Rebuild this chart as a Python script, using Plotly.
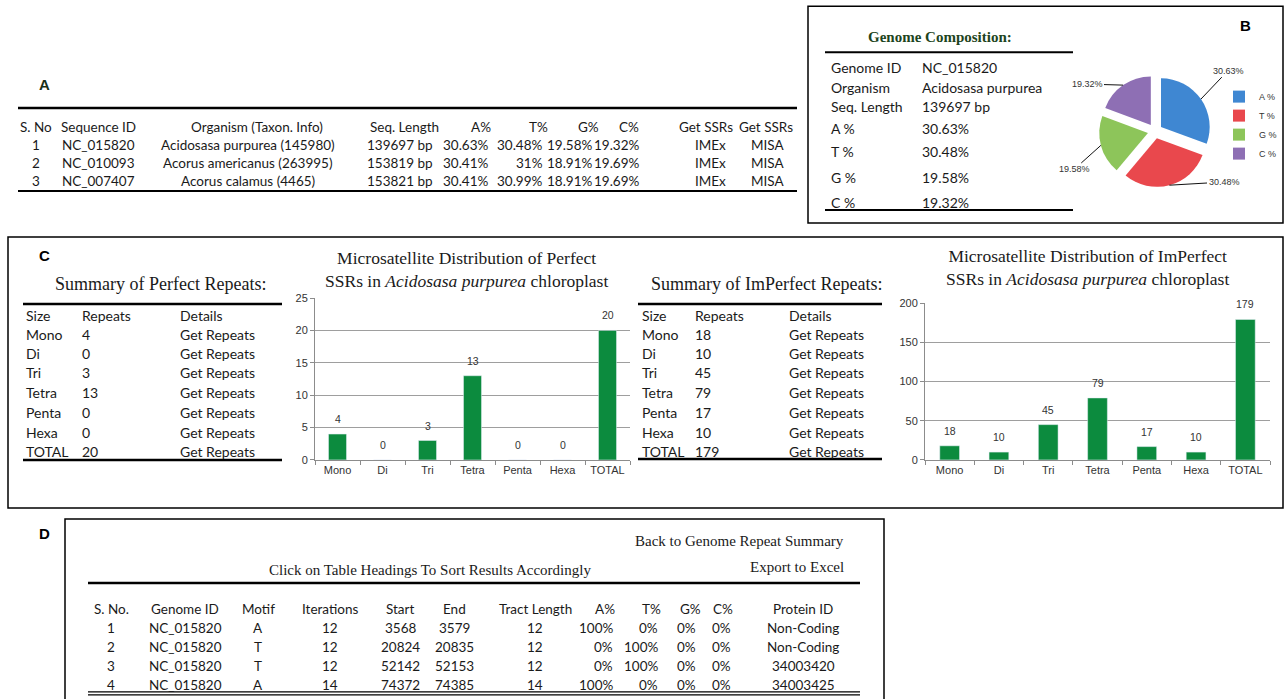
import math
import plotly.graph_objects as go

W, H = 1286, 699

# ---------------- data ----------------
# Panel A
a_headers = ["S. No", "Sequence ID", "Organism (Taxon. Info)", "Seq. Length", "A%", "T%", "G%", "C%", "Get SSRs", "Get SSRs"]
a_sno = ["1", "2", "3"]
a_seq_id = ["NC_015820", "NC_010093", "NC_007407"]
a_organism = ["Acidosasa purpurea (145980)", "Acorus americanus (263995)", "Acorus calamus (4465)"]
a_length = ["139697 bp", "153819 bp", "153821 bp"]
a_pct_A = ["30.63%", "30.41%", "30.41%"]
a_pct_T = ["30.48%", "31%", "30.99%"]
a_pct_G = ["19.58%", "18.91%", "18.91%"]
a_pct_C = ["19.32%", "19.69%", "19.69%"]
a_ssr_imex = ["IMEx", "IMEx", "IMEx"]
a_ssr_misa = ["MISA", "MISA", "MISA"]

# Panel B
b_title = "Genome Composition:"
b_labels = ["Genome ID", "Organism", "Seq. Length", "A %", "T %", "G %", "C %"]
b_values = ["NC_015820", "Acidosasa purpurea", "139697 bp", "30.63%", "30.48%", "19.58%", "19.32%"]
pie_labels = ["A %", "T %", "G %", "C %"]
pie_values = [30.63, 30.48, 19.58, 19.32]
pie_colors = ["#3f87d2", "#e9484d", "#8dc55a", "#8e6fb4"]

# Panel C
size_labels = ["Mono", "Di", "Tri", "Tetra", "Penta", "Hexa", "TOTAL"]
perfect_repeats = [4, 0, 3, 13, 0, 0, 20]
imperfect_repeats = [18, 10, 45, 79, 17, 10, 179]
c_headers = ["Size", "Repeats", "Details"]
c_details = ["Get Repeats"] * 7

# Panel D
d_headers = ["S. No.", "Genome ID", "Motif", "Iterations", "Start", "End", "Tract Length", "A%", "T%", "G%", "C%", "Protein ID"]
d_sno = ["1", "2", "3", "4"]
d_genome = ["NC_015820", "NC_015820", "NC_015820", "NC_015820"]
d_motif = ["A", "T", "T", "A"]
d_iter = ["12", "12", "12", "14"]
d_start = ["3568", "20824", "52142", "74372"]
d_end = ["3579", "20835", "52153", "74385"]
d_tract = ["12", "12", "12", "14"]
d_pA = ["100%", "0%", "0%", "100%"]
d_pT = ["0%", "100%", "100%", "0%"]
d_pG = ["0%", "0%", "0%", "0%"]
d_pC = ["0%", "0%", "0%", "0%"]
d_protein = ["Non-Coding", "Non-Coding", "34003420", "34003425"]

# ---------------- helpers ----------------
YS = 1.017  # slight vertical stretch about the middle of the page


def px(x):
    return x / W


def py(y):
    return 1 - (350 + (y - 350) * YS) / H


SANS = "Lato"
SERIF = "Liberation Serif"
TXT = "#1a1a1a"

annotations = []
shapes = []


def text(x, y, s, anchor="left", size=13.5, family=SANS, color=TXT, bold=False):
    if bold:
        s = "<b>" + s + "</b>"
    annotations.append(dict(x=px(x), y=py(y), xref="paper", yref="paper", text=s,
                            showarrow=False, xanchor=anchor, yanchor="middle",
                            font=dict(size=size, family=family, color=color)))


def hline(x0, x1, y, w=2.0, color="#000"):
    shapes.append(dict(type="line", xref="paper", yref="paper", x0=px(x0), x1=px(x1),
                       y0=py(y), y1=py(y), line=dict(color=color, width=w)))


def box(x0, y0, x1, y1, w=1.5):
    shapes.append(dict(type="rect", xref="paper", yref="paper", x0=px(x0), x1=px(x1),
                       y0=py(y0), y1=py(y1), line=dict(color="#000", width=w), layer="below"))


def column(x, ys, vals, anchor="left", size=13.5):
    for yy, v in zip(ys, vals):
        text(x, yy, str(v), anchor, size)


# ---------------- Panel A ----------------
text(44, 84, "A", "center", 15, "Liberation Sans", "#183018", bold=True)
hline(18, 797, 108, 2.5)
hline(18, 797, 191, 2.0)
a_head_x = [36, 98, 257, 404, 481, 538, 588, 629, 706, 766]
for hx, h in zip(a_head_x, a_headers):
    text(hx, 127, h, "center", 13.5)
a_rows = [145, 163, 181]
column(36, a_rows, a_sno, "center")
column(98, a_rows, a_seq_id, "center")
column(248, a_rows, a_organism, "center")
column(400, a_rows, a_length, "center")
column(491, a_rows, a_pct_A, "right")
column(545, a_rows, a_pct_T, "right")
column(595, a_rows, a_pct_G, "right")
column(642, a_rows, a_pct_C, "right")
column(711, a_rows, a_ssr_imex, "center")
column(767, a_rows, a_ssr_misa, "center")

# ---------------- Panel B ----------------
box(808, 6, 1283, 223)
text(1245, 25, "B", "center", 15, "Liberation Sans", "#000", bold=True)
text(940, 37, b_title, "center", 15, SERIF, "#1d4420", bold=True)
hline(825, 1073, 52, 2.0)
hline(825, 1073, 210, 2.0)
b_rows = [67, 87, 106, 128, 151, 177, 202]
column(829, b_rows, b_labels, "left", 14)
column(920, b_rows, b_values, "left", 14)

# pie geometry (layout) and data-driven leader lines
PIE_CX, PIE_CY, PIE_HALF, PIE_PULL = 1155, 131, 56, 0.15
pie_label_pos = [(1228, 71), (1224, 182), (1074, 169), (1087, 84)]
total = sum(pie_values)
cum = 0.0
for v, (lx, ly) in zip(pie_values, pie_label_pos):
    ang = 2 * math.pi * (cum + v / 2) / total
    cum += v
    tx = PIE_CX + PIE_HALF * math.sin(ang)
    ty = PIE_CY - PIE_HALF * math.cos(ang)
    annotations.append(dict(x=px(tx), y=py(ty), xref="paper", yref="paper",
                            text="%.2f%%" % v, showarrow=True, arrowhead=0,
                            arrowwidth=1, arrowcolor="#111",
                            ax=lx - tx, ay=(ly - ty) * YS,
                            font=dict(size=9, color="#333", family="Liberation Sans")))

# ---------------- Panel C ----------------
box(8, 237, 1283, 508)
text(44, 255, "C", "center", 15, "Liberation Sans", "#000", bold=True)
c_rows = [335, 354, 373, 393, 413, 433, 452]
# perfect summary
text(160, 284, "Summary of Perfect Repeats:", "center", 18, SERIF)
hline(23, 282, 304, 2.5)
hline(23, 282, 460, 2.5)
for hx, h in zip([24, 80, 178], c_headers):
    text(hx, 315, h, "left", 14)
column(24, c_rows, size_labels, "left", 14)
column(80, c_rows, perfect_repeats, "left", 14)
column(178, c_rows, c_details, "left", 14)
# imperfect summary
text(766, 284, "Summary of ImPerfect Repeats:", "center", 18, SERIF)
hline(638, 882, 304, 2.5)
hline(638, 882, 459, 2.5)
for hx, h in zip([640, 693, 787], c_headers):
    text(hx, 315, h, "left", 14)
column(640, c_rows, size_labels, "left", 14)
column(693, c_rows, imperfect_repeats, "left", 14)
column(787, c_rows, c_details, "left", 14)
# chart titles
text(466, 269, "Microsatellite Distribution of Perfect<br>SSRs in <i>Acidosasa purpurea</i> chloroplast", "center", 17.5, SERIF)
text(1087, 267, "Microsatellite Distribution of ImPerfect<br>SSRs in <i>Acidosasa purpurea</i> chloroplast", "center", 17.5, SERIF)

# ---------------- Panel D ----------------
box(65, 519, 884, 715)
text(44, 534, "D", "center", 15, "Liberation Sans", "#000", bold=True)
text(846, 541, "Back to Genome Repeat Summary", "right", 15, SERIF)
text(846, 567, "Export to Excel", "right", 15, SERIF)
text(430, 570, "Click on Table Headings To Sort Results Accordingly", "center", 15, SERIF)
hline(88, 860, 583, 2.5)
hline(88, 860, 692, 1.2)
hline(88, 860, 695, 1.2)
d_head_x = [111, 185, 258, 330, 400, 454, 535, 605, 651, 690, 723, 803]
for hx, h in zip(d_head_x, d_headers):
    text(hx, 609, h, "center", 13.5)
d_rows = [628, 647, 666, 685]
column(111, d_rows, d_sno, "center")
column(185, d_rows, d_genome, "center")
column(258, d_rows, d_motif, "center")
column(330, d_rows, d_iter, "center")
column(400, d_rows, d_start, "center")
column(454, d_rows, d_end, "center")
column(535, d_rows, d_tract, "center")
column(615, d_rows, d_pA, "right")
column(660, d_rows, d_pT, "right")
column(698, d_rows, d_pG, "right")
column(733, d_rows, d_pC, "right")
column(803, d_rows, d_protein, "center")

# ---------------- traces ----------------
BAR = "#0c8b3e"
fig = go.Figure()
for xa, ya, vals in (("x", "y", perfect_repeats), ("x2", "y2", imperfect_repeats)):
    fig.add_trace(go.Bar(x=size_labels, y=vals, xaxis=xa, yaxis=ya,
                         marker=dict(color=BAR), width=0.4,
                         showlegend=False, hoverinfo="x+y"))
    for c, v in zip(size_labels, vals):
        annotations.append(dict(x=c, y=v, xref=xa, yref=ya, text=str(v), showarrow=False,
                                xanchor="center", yanchor="bottom", yshift=7,
                                font=dict(size=10.5, color="#333", family="Liberation Sans")))

fig.add_trace(go.Pie(labels=pie_labels, values=pie_values, sort=False, direction="clockwise",
                     marker=dict(colors=pie_colors, line=dict(color="white", width=0)),
                     pull=[PIE_PULL] * 4, textinfo="none",
                     domain=dict(x=[px(PIE_CX - PIE_HALF), px(PIE_CX + PIE_HALF)],
                                 y=[py(PIE_CY + PIE_HALF), py(PIE_CY - PIE_HALF)]),
                     showlegend=True))

axis_common = dict(showline=True, linecolor="#8c8c8c", linewidth=1, ticks="outside",
                   tickcolor="#8c8c8c", ticklen=4,
                   tickfont=dict(size=11, color="#333", family="Liberation Sans"))
fig.update_layout(
    width=W, height=H, margin=dict(l=0, r=0, t=0, b=0),
    paper_bgcolor="white", plot_bgcolor="white",
    xaxis=dict(domain=[px(315), px(630)], anchor="y", tickson="boundaries", **axis_common),
    yaxis=dict(domain=[py(460), py(298)], anchor="x", range=[0, 25], dtick=5,
               showgrid=True, gridcolor="#9e9e9e", gridwidth=1.4, zeroline=False, **axis_common),
    xaxis2=dict(domain=[px(925), px(1270)], anchor="y2", tickson="boundaries", **axis_common),
    yaxis2=dict(domain=[py(460), py(303)], anchor="x2", range=[0, 200], dtick=50,
                showgrid=True, gridcolor="#9e9e9e", gridwidth=1.4, zeroline=False, **axis_common),
    legend=dict(x=px(1219), y=py(82), xanchor="left", yanchor="top",
                font=dict(size=9, color="#333", family="Liberation Sans"),
                bgcolor="rgba(0,0,0,0)", itemwidth=30, tracegroupgap=0),
    annotations=annotations, shapes=shapes, bargap=0.6,
)

fig.write_html("out.html", config={"displayModeBar": False},
               post_script="document.body.style.margin='0';document.body.style.overflow='hidden';")
